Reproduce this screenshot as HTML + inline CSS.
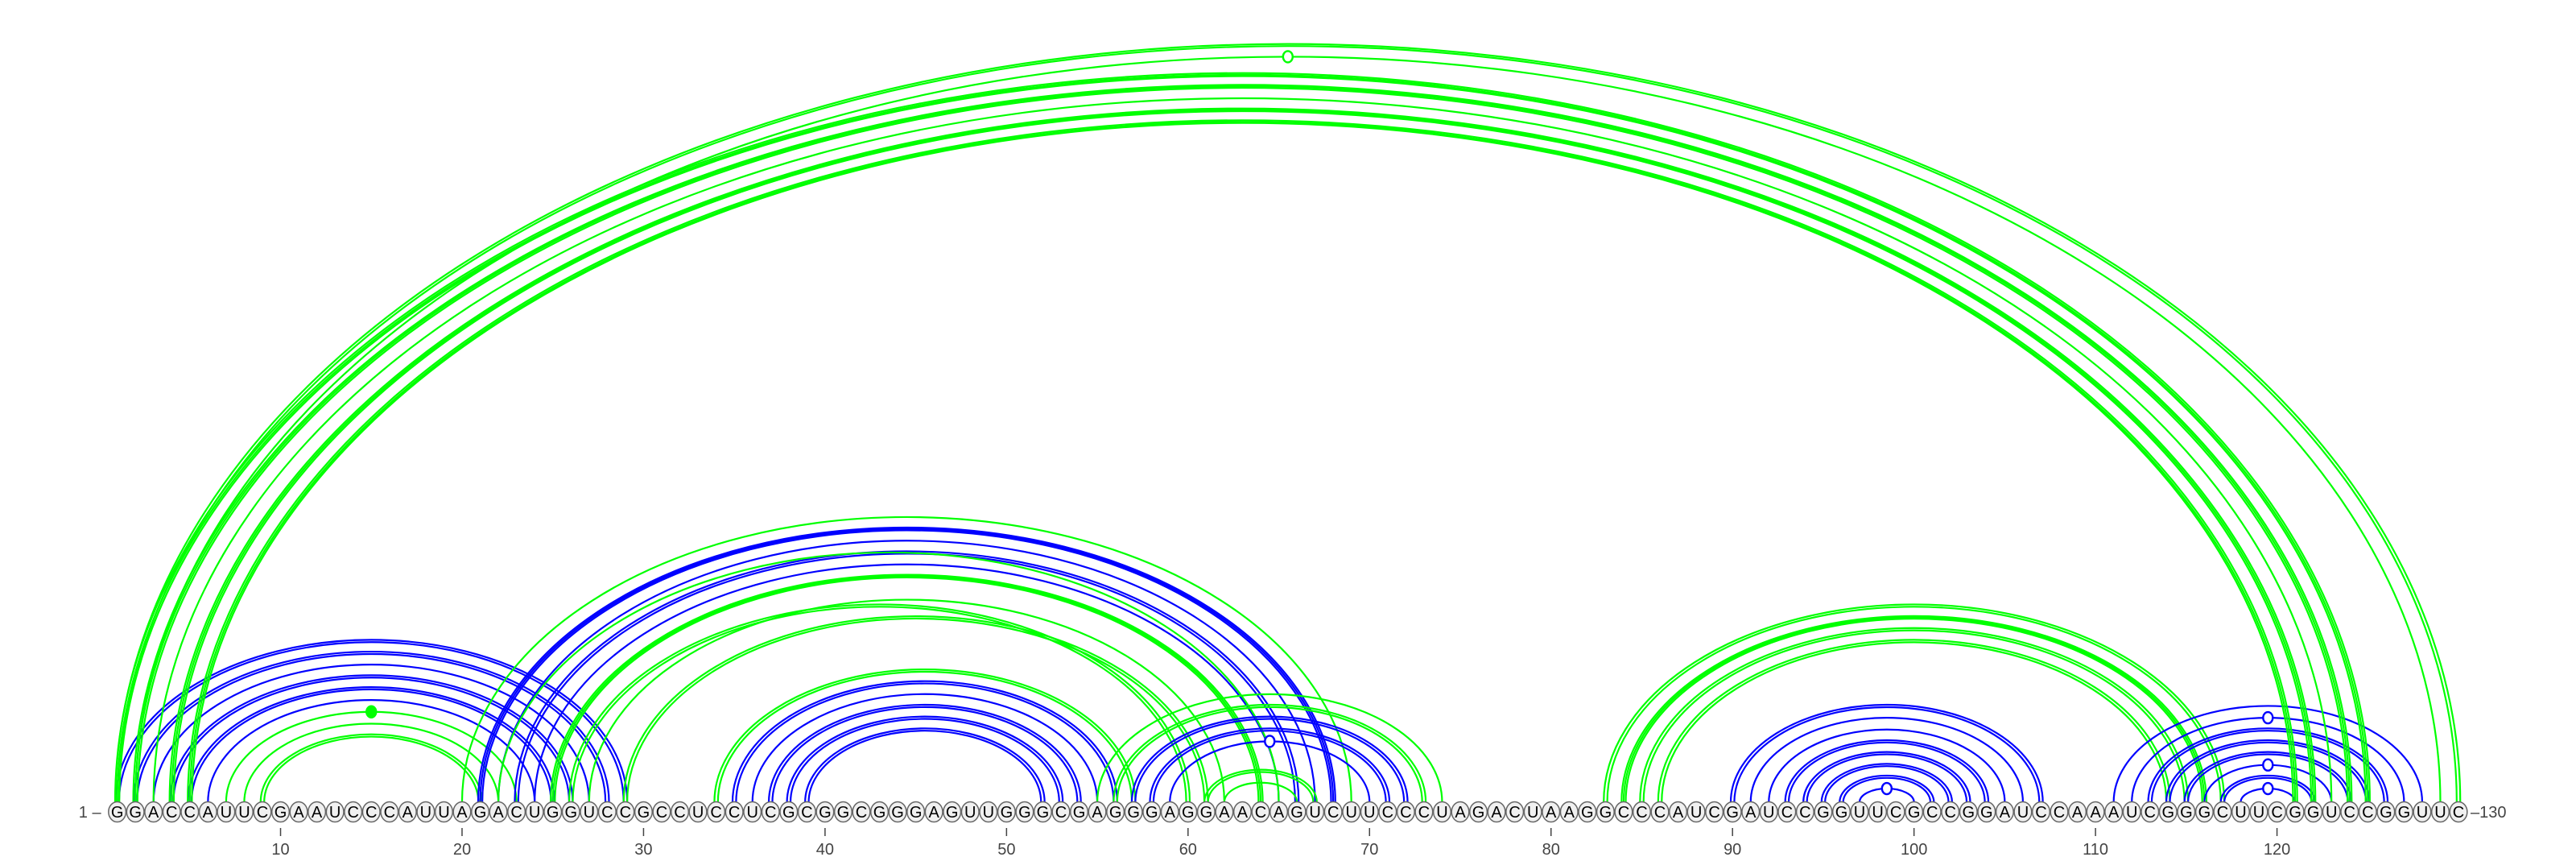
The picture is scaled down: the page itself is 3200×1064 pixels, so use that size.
<!DOCTYPE html>
<html><head><meta charset="utf-8"><style>
html,body{margin:0;padding:0;background:#fff;}
svg{display:block;}
</style></head><body>
<svg id="chart" width="3200" height="1064" viewBox="0 0 3200 1064" xmlns="http://www.w3.org/2000/svg">
<g id="arcs"></g>
<g id="nts"></g>
<g id="axis"></g>
</svg>
<script>
const sequence = "GGACCAUUCGAAUCCCAUUAGACUGGUCCGCCUCCUCGCGGCGGGAGUUGGGCGAGGGAGGAACAGUCUUCCCUAGACUAAGGCCCAUCGAUCCGGUUCGCCGGAUCCAAAUCGGGCUUCGGUCCGGUUC";
const tickPositions = [10,20,30,40,50,60,70,80,90,100,110,120];
const pairI =     [1,2,3,4,5,6, 7,8,9, 21,22,23,24, 35,36,37,38,39, 34, 20,22,25,27,29,26, 55,56, 61,62, 57,58,59, 90,91,92,93,94,95,96,97, 83,84,85,86, 111,112,113,114,115,116,117,118, 1,2,1,2,3,4,5];
const pairJ =     [29,28,27,26,25,24, 23,22,21, 68,67,66,65, 56,55,54,53,52, 57, 69,65,64,62,61,60, 74,73, 67,66, 72,71,70, 107,106,105,104,103,102,101,100, 117,116,115,114, 128,127,126,125,124,123,122,121, 130,129,125,124,123,122,121];
const pairColor = ["b","b","b","b","b","b", "g","g","g", "b","b","b","b", "b","b","b","b","b", "g", "g","g","g","g","g","g", "g","g", "g","g", "b","b","b", "b","b","b","b","b","b","b","b", "g","g","g","g", "b","b","b","b","b","b","b","b", "g","g","g","g","g","g","g"];
const pairLines = [2,2,1,2,2,1, 1,1,2, 3,1,2,1, 2,1,2,2,2, 2, 1,1,3,1,2,2, 1,2, 2,1, 2,2,1, 2,1,1,2,2,2,2,1, 2,3,2,2, 1,1,2,2,2,1,2,1, 2,1,3,3,1,3,3];
const pairMarker= [0,0,0,0,0,0, 2,0,0, 0,0,0,0, 0,0,0,0,0, 0, 0,0,0,0,0,0, 0,0, 0,0, 0,0,1, 0,0,0,0,0,0,0,1, 0,0,0,0, 0,1,0,0,0,1,0,1, 0,1,0,0,0,0,0];

const NS="http://www.w3.org/2000/svg";
const X0=145.6, DX=22.546, BASE=996, NY=1008;
function xPos(p){return X0+(p-1)*DX;}
function arcH(rx){return Math.max(0.65*rx-5,6);}
const colors={b:"#0000ff",g:"#00ff00"};
const arcs=document.getElementById("arcs");
for(let k=0;k<pairI.length;k++){
  const xi=xPos(pairI[k]), xj=xPos(pairJ[k]);
  const n=pairLines[k];
  const offs = n===1?[0]:(n===2?[-2.2,2.2]:[-2.6,0,2.6]);
  const col=colors[pairColor[k]];
  for(const o of offs){
    const a=xi-o, b=xj+o;
    const rx=(b-a)/2, ry=arcH(rx);
    const p=document.createElementNS(NS,"path");
    p.setAttribute("d",`M${a},${BASE} A${rx},${ry} 0 0 1 ${b},${BASE}`);
    p.setAttribute("fill","none");
    p.setAttribute("stroke",col);
    p.setAttribute("stroke-width","2.2");
    
    
    arcs.appendChild(p);
  }
  if(pairMarker[k]){
    const rx=(xj-xi)/2, ry=arcH(rx);
    const c=document.createElementNS(NS,"ellipse");
    c.setAttribute("cx",(xi+xj)/2);c.setAttribute("cy",BASE-ry);
    c.setAttribute("rx",6);c.setAttribute("ry",7);
    c.setAttribute("fill",pairMarker[k]===2?col:"#fff");
    c.setAttribute("stroke",col);c.setAttribute("stroke-width","2.4");
    
    
    arcs.appendChild(c);
  }
}
const nts=document.getElementById("nts");
for(let i=0;i<sequence.length;i++){
  const x=xPos(i+1);
  const e=document.createElementNS(NS,"ellipse");
  e.setAttribute("cx",x);e.setAttribute("cy",NY);e.setAttribute("rx",10.8);e.setAttribute("ry",12.5);
  e.setAttribute("fill","#f0f0f0");e.setAttribute("stroke","#666");e.setAttribute("stroke-width","1.5");
  
  
  nts.appendChild(e);
  const t=document.createElementNS(NS,"text");
  t.setAttribute("x",x);t.setAttribute("y",NY+7);t.setAttribute("text-anchor","middle");
  t.setAttribute("font-family","Liberation Sans, sans-serif");t.setAttribute("font-size","20");t.setAttribute("fill","#000");
  t.textContent=sequence[i];
  
  
  nts.appendChild(t);
}
const axis=document.getElementById("axis");
function addText(x,y,s,anchor,name){
  const t=document.createElementNS(NS,"text");
  t.setAttribute("x",x);t.setAttribute("y",y);t.setAttribute("text-anchor",anchor);
  t.setAttribute("font-family","Liberation Sans, sans-serif");t.setAttribute("font-size","20");t.setAttribute("fill","#444");
  t.textContent=s;
  
  
  axis.appendChild(t);
}
addText(xPos(1)-20,NY+7,"1 –","end","start-label");
addText(xPos(sequence.length)+15,NY+7,"–"+sequence.length,"start","end-label");
for(const p of tickPositions){
  const l=document.createElementNS(NS,"line");
  l.setAttribute("x1",xPos(p));l.setAttribute("x2",xPos(p));l.setAttribute("y1",1028);l.setAttribute("y2",1038);
  l.setAttribute("stroke","#444");l.setAttribute("stroke-width","1.5");
  
  
  axis.appendChild(l);
  addText(xPos(p),1061,String(p),"middle","tick-label");
}
</script>
</body></html>
